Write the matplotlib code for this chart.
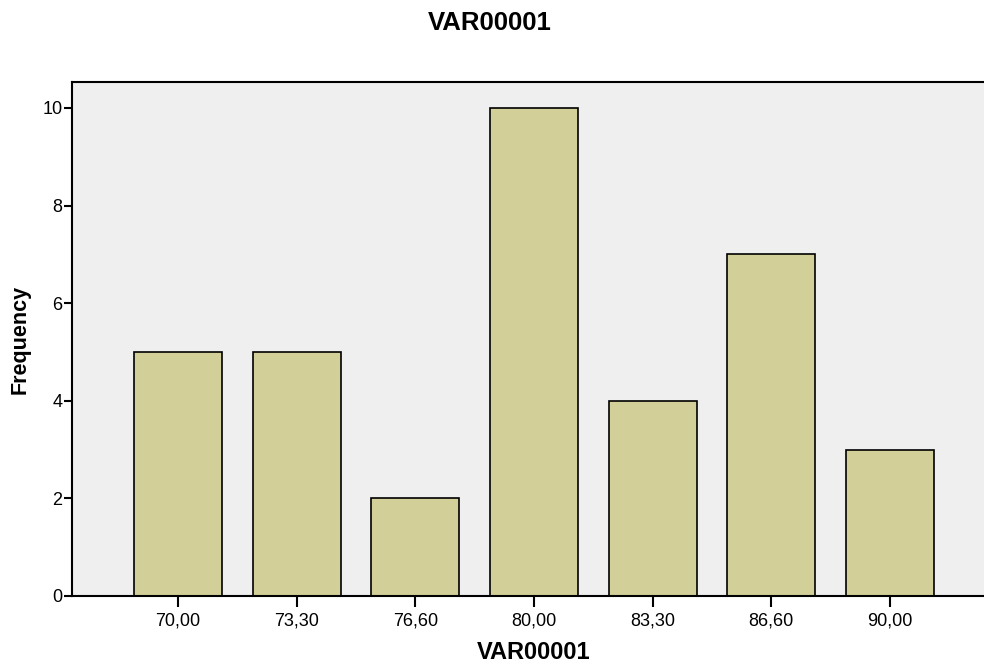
import matplotlib
matplotlib.use("Agg")
import matplotlib.pyplot as plt

plt.rcParams['font.family'] = ['Liberation Sans', 'DejaVu Sans']

categories = ["70,00", "73,30", "76,60", "80,00", "83,30", "86,60", "90,00"]
frequency = [5, 5, 2, 10, 4, 7, 3]
y_ticks = [0, 2, 4, 6, 8, 10]

fig = plt.figure(figsize=(9.84, 6.62), dpi=100)
ax = fig.add_axes([0.0732, 0.0997, 0.939, 0.7764])
ax.set_facecolor('#efefef')

x = list(range(len(categories)))
ax.bar(x, frequency, width=0.74, color='#d3cf98', edgecolor='black', linewidth=1.2, zorder=2)

ax.set_xlim(-0.893, 6.893)
ax.set_ylim(0, 10.53)
ax.set_xticks(x)
ax.set_xticklabels(categories)
ax.set_yticks(y_ticks)
ax.tick_params(axis='x', length=8, width=1.5, labelsize=13, pad=4)
ax.tick_params(axis='y', length=6, width=1.5, labelsize=13, pad=1)

for side in ['left', 'bottom', 'top']:
    ax.spines[side].set_linewidth(1.5)
ax.spines['right'].set_visible(False)

ax.set_ylabel("Frequency", fontsize=15.5, fontweight='bold', labelpad=8)
ax.set_xlabel("VAR00001", fontsize=17, fontweight='bold', labelpad=8)
fig.text(0.498, 0.965, "VAR00001", ha='center', va='center', fontsize=18.5, fontweight='bold')

fig.savefig("out.png", dpi=100)
